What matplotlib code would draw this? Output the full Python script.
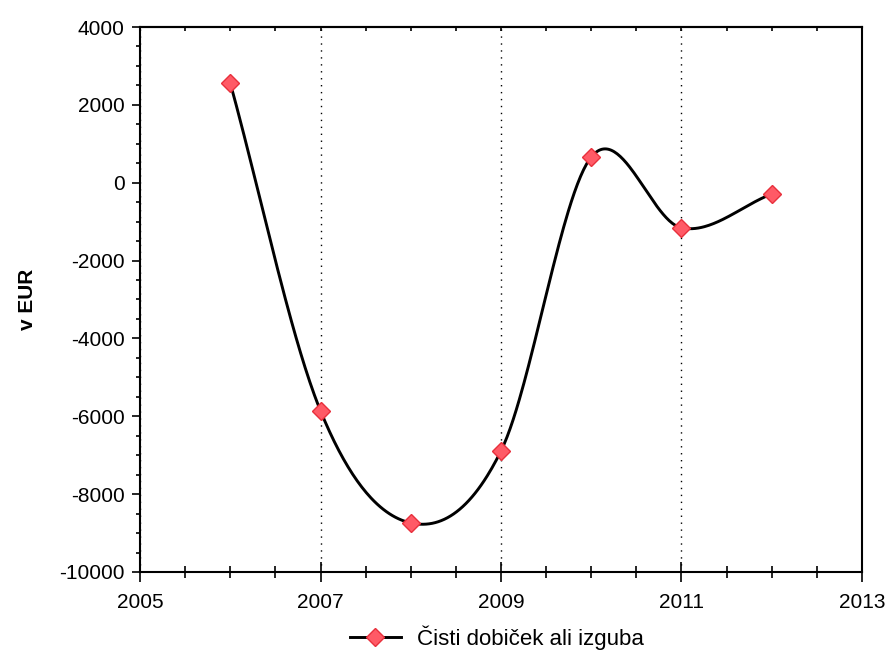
import numpy as np
import matplotlib
matplotlib.use('Agg')
import matplotlib.pyplot as plt
from matplotlib.ticker import MultipleLocator

plt.rcParams['font.family'] = ['Liberation Sans', 'DejaVu Sans']
plt.rcParams['axes.unicode_minus'] = False

years = [2006, 2007, 2008, 2009, 2010, 2011, 2012]
values = [2560, -5860, -8740, -6890, 660, -1160, -290]
label = 'Čisti dobiček ali izguba'
ylabel = 'v EUR'


def smooth_line(x, y, n=60):
    # cardinal (Catmull-Rom style) spline like a spreadsheet "smoothed line"
    x = np.asarray(x, float)
    y = np.asarray(y, float)
    k = len(x)
    m = np.zeros(k)
    m[1:-1] = (y[2:] - y[:-2]) / (x[2:] - x[:-2])
    m[0] = (y[1] - y[0]) / (x[1] - x[0])
    m[-1] = (y[-1] - y[-2]) / (x[-1] - x[-2])
    xs_all, ys_all = [], []
    for i in range(k - 1):
        h = x[i + 1] - x[i]
        t = np.linspace(0, 1, n)
        h00 = 2 * t**3 - 3 * t**2 + 1
        h10 = t**3 - 2 * t**2 + t
        h01 = -2 * t**3 + 3 * t**2
        h11 = t**3 - t**2
        xs_all.append(x[i] + t * h)
        ys_all.append(h00 * y[i] + h10 * h * m[i] + h01 * y[i + 1] + h11 * h * m[i + 1])
    return np.concatenate(xs_all), np.concatenate(ys_all)


fig = plt.figure(figsize=(8.89, 6.57), dpi=100)
ax = fig.add_axes([0.1575, 0.1294, 0.8121, 0.8295])

xs, ys = smooth_line(years, values)
ax.plot(xs, ys, color='black', lw=2.1, zorder=3)
ax.plot(years, values, linestyle='None', marker='D', markersize=9,
        markerfacecolor='#ff5a66', markeredgecolor='#e8303c', markeredgewidth=1,
        zorder=4)

# legend proxy
ax.plot([], [], color='black', lw=2.1, marker='D', markersize=9,
        markerfacecolor='#ff5a66', markeredgecolor='#e8303c', label=label)

ax.set_xlim(2005, 2013)
ax.set_ylim(-10000, 4000)
ax.xaxis.set_major_locator(MultipleLocator(2, offset=1))
ax.xaxis.set_minor_locator(MultipleLocator(0.5))
ax.yaxis.set_major_locator(MultipleLocator(2000))
ax.yaxis.set_minor_locator(MultipleLocator(500))

ax.grid(True, axis='x', which='major', linestyle=(0, (1, 4)), color='black', lw=1)

ax.tick_params(axis='x', which='major', direction='inout', length=14, width=1.2,
               labelsize=15, pad=8)
ax.tick_params(axis='x', which='minor', direction='inout', length=9, width=1.2)
ax.tick_params(axis='y', which='major', direction='out', length=6, width=1.2,
               labelsize=15, pad=5)
ax.tick_params(axis='y', which='minor', direction='out', length=3, width=1.2)

top = ax.secondary_xaxis('top')
top.xaxis.set_major_locator(MultipleLocator(2, offset=1))
top.xaxis.set_minor_locator(MultipleLocator(0.5))
top.tick_params(which='both', direction='in', length=3, width=1.2, labeltop=False)
top.spines['top'].set_linewidth(1.5)

for s in ax.spines.values():
    s.set_linewidth(1.5)

ax.set_ylabel(ylabel, fontsize=15, fontweight='bold', labelpad=16)

fig.legend(loc='center', bbox_to_anchor=(0.559, 0.029), frameon=False,
           fontsize=16, handlelength=2.3, handletextpad=0.75)

plt.savefig('out.png', dpi=100)
